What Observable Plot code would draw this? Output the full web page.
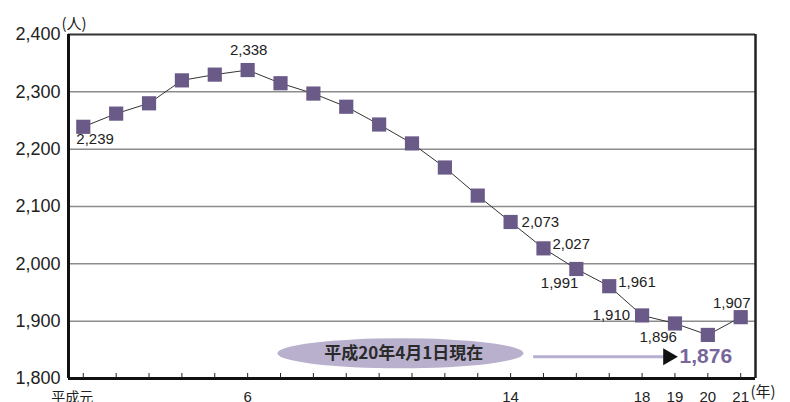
<!DOCTYPE html>
<html>
<head>
<meta charset="utf-8">
<script src="https://cdn.jsdelivr.net/npm/d3@7"></script>
<script src="https://cdn.jsdelivr.net/npm/@observablehq/plot@0.6"></script>
<style>
  html, body { margin: 0; padding: 0; background: #fff; }
  #chart { width: 790px; height: 402px; overflow: hidden; }
</style>
</head>
<body>
<div id="chart"></div>
<script>
// ---- data ----
const years = [1,2,3,4,5,6,7,8,9,10,11,12,13,14,15,16,17,18,19,20,21];
const population = [2239,2262,2280,2320,2330,2338,2315,2297,2274,2243,2210,2168,2119,2073,2027,1991,1961,1910,1896,1876,1907];
const labeledYears = [1,6,14,15,16,17,18,19,21];
const labelSide = ["belowRight","above","right","upRight","belowLeft","upRight","left","belowLeft","aboveLeft"];
const yTicks = [1800,1900,2000,2100,2200,2300,2400];
const xTickYears = [1,6,14,18,19,20,21];
const xTickLabels = ["平成元","6","14","18","19","20","21"];
const yUnit = "(人)";
const xUnit = "(年)";
const noteText = "平成20年4月1日現在";
const highlightYear = 20;

// ---- build ----
const rows = years.map((y, i) => ({year: y, value: population[i]}));
const labelRows = labeledYears.map((y, i) => ({year: y, value: population[years.indexOf(y)], side: labelSide[i]}));
const fmt = d3.format(",");
const highlightValue = population[years.indexOf(highlightYear)];

const sideStyle = {
  belowRight: {textAnchor: "start", dx: -7, dy: 12},
  above: {textAnchor: "middle", dx: 1, dy: -20},
  right: {textAnchor: "start", dx: 11, dy: 0},
  upRight: {textAnchor: "start", dx: 9, dy: -4},
  belowLeft: {textAnchor: "end", dx: 2, dy: 14},
  left: {textAnchor: "end", dx: -12, dy: 0},
  aboveLeft: {textAnchor: "middle", dx: -9, dy: -14}
};

const latin = "'Liberation Sans', Arial, Helvetica, sans-serif";
const cjk = "'Noto Sans CJK JP', 'Liberation Sans', sans-serif";
const xMin = 0.55, xMax = 21.45;

const labelMarks = Object.entries(sideStyle).map(([side, st]) =>
  Plot.text(labelRows.filter(d => d.side === side), {
    x: "year", y: "value", text: d => fmt(d.value),
    fontSize: 15, fill: "#222", fontFamily: latin, ...st
  })
);

// ellipse annotation: circle dot stretched horizontally in render
const ellipse = Plot.dot([{x: 10.65, y: 1844}], {
  x: "x", y: "y", r: 15, fill: "#b8b0cd", stroke: "none",
  render(index, scales, values, dims, ctx, next) {
    const g = next(index, scales, values, dims, ctx);
    d3.select(g).selectAll("circle").each(function() {
      const c = d3.select(this);
      const cx = +c.attr("cx") || 0, cy = +c.attr("cy") || 0;
      const t = c.attr("transform");
      c.attr("transform", (t ? t + " " : "") + `translate(${cx},${cy}) scale(8.2,1) translate(${-cx},${-cy})`);
    });
    return g;
  }
});

const chart = Plot.plot({
  width: 790,
  height: 402,
  marginLeft: 68,
  marginRight: 35,
  marginTop: 34,
  marginBottom: 24,
  style: {fontFamily: latin, background: "#fff", overflow: "visible"},
  x: {domain: [xMin, xMax], axis: null},
  y: {domain: [1800, 2400], axis: null},
  marks: [
    // grid
    Plot.ruleY(yTicks.filter(v => v > 1800 && v < 2400), {stroke: "#8c8c8c", strokeWidth: 1.5}),
    // frame
    Plot.ruleY([2400], {stroke: "#333", strokeWidth: 2.2}),
    Plot.ruleX([xMax], {stroke: "#222", strokeWidth: 2.5}),
    Plot.ruleY([1800], {stroke: "#111", strokeWidth: 3}),
    Plot.ruleX([xMin], {stroke: "#111", strokeWidth: 3}),
    // x tick marks (inward)
    Plot.axisX({ticks: years, tickSize: -5, tickFormat: () => "", stroke: "#222", strokeWidth: 1}),
    // y tick labels
    Plot.axisY({ticks: yTicks, tickSize: 0, tickPadding: 8, tickFormat: fmt, fontSize: 18, fill: "#222", fontFamily: latin}),
    // x tick labels
    Plot.text(xTickYears.slice(1), {x: d => d, frameAnchor: "bottom", dy: 23, text: (d, i) => xTickLabels[i + 1], fontSize: 15, fill: "#222", fontFamily: latin}),
    Plot.text(xTickYears.slice(0, 1), {x: d => d, frameAnchor: "bottom", dy: 23, dx: -11, text: () => xTickLabels[0], fontSize: 14, fill: "#222", fontFamily: cjk}),
    // unit labels
    Plot.text([yUnit], {frameAnchor: "top-left", dx: -7, dy: -16, text: d => d, textAnchor: "start", fontSize: 15, fill: "#222", fontFamily: cjk}),
    Plot.text([xUnit], {frameAnchor: "bottom-right", dx: -5, dy: 18, text: d => d, textAnchor: "start", fontSize: 15, fill: "#222", fontFamily: cjk}),
    // annotation
    ellipse,
    Plot.text([noteText], {x: () => 10.75, y: () => 1844, text: d => d, fontSize: 17, fontWeight: "bold", fill: "#2a2a2a", fontFamily: cjk}),
    Plot.ruleY([1838], {x1: 14.7, x2: 18.72, stroke: "#b7aed0", strokeWidth: 3}),
    Plot.dot([highlightYear], {x: () => 18.79, y: () => 1838, symbol: "triangle", rotate: 90, r: 6.3, fill: "#111", stroke: "none"}),
    Plot.text([highlightValue], {x: () => 19.08, y: () => 1838, text: d => fmt(d), textAnchor: "start", dx: 2, fontSize: 21, fontWeight: "bold", fill: "#76669b", fontFamily: latin}),
    // data
    Plot.line(rows, {x: "year", y: "value", stroke: "#333", strokeWidth: 1}),
    Plot.dot(rows, {x: "year", y: "value", symbol: "square", r: 8, fill: "#6a5a87", stroke: "none"}),
    ...labelMarks
  ]
});

document.getElementById("chart").appendChild(chart);
</script>
</body>
</html>
